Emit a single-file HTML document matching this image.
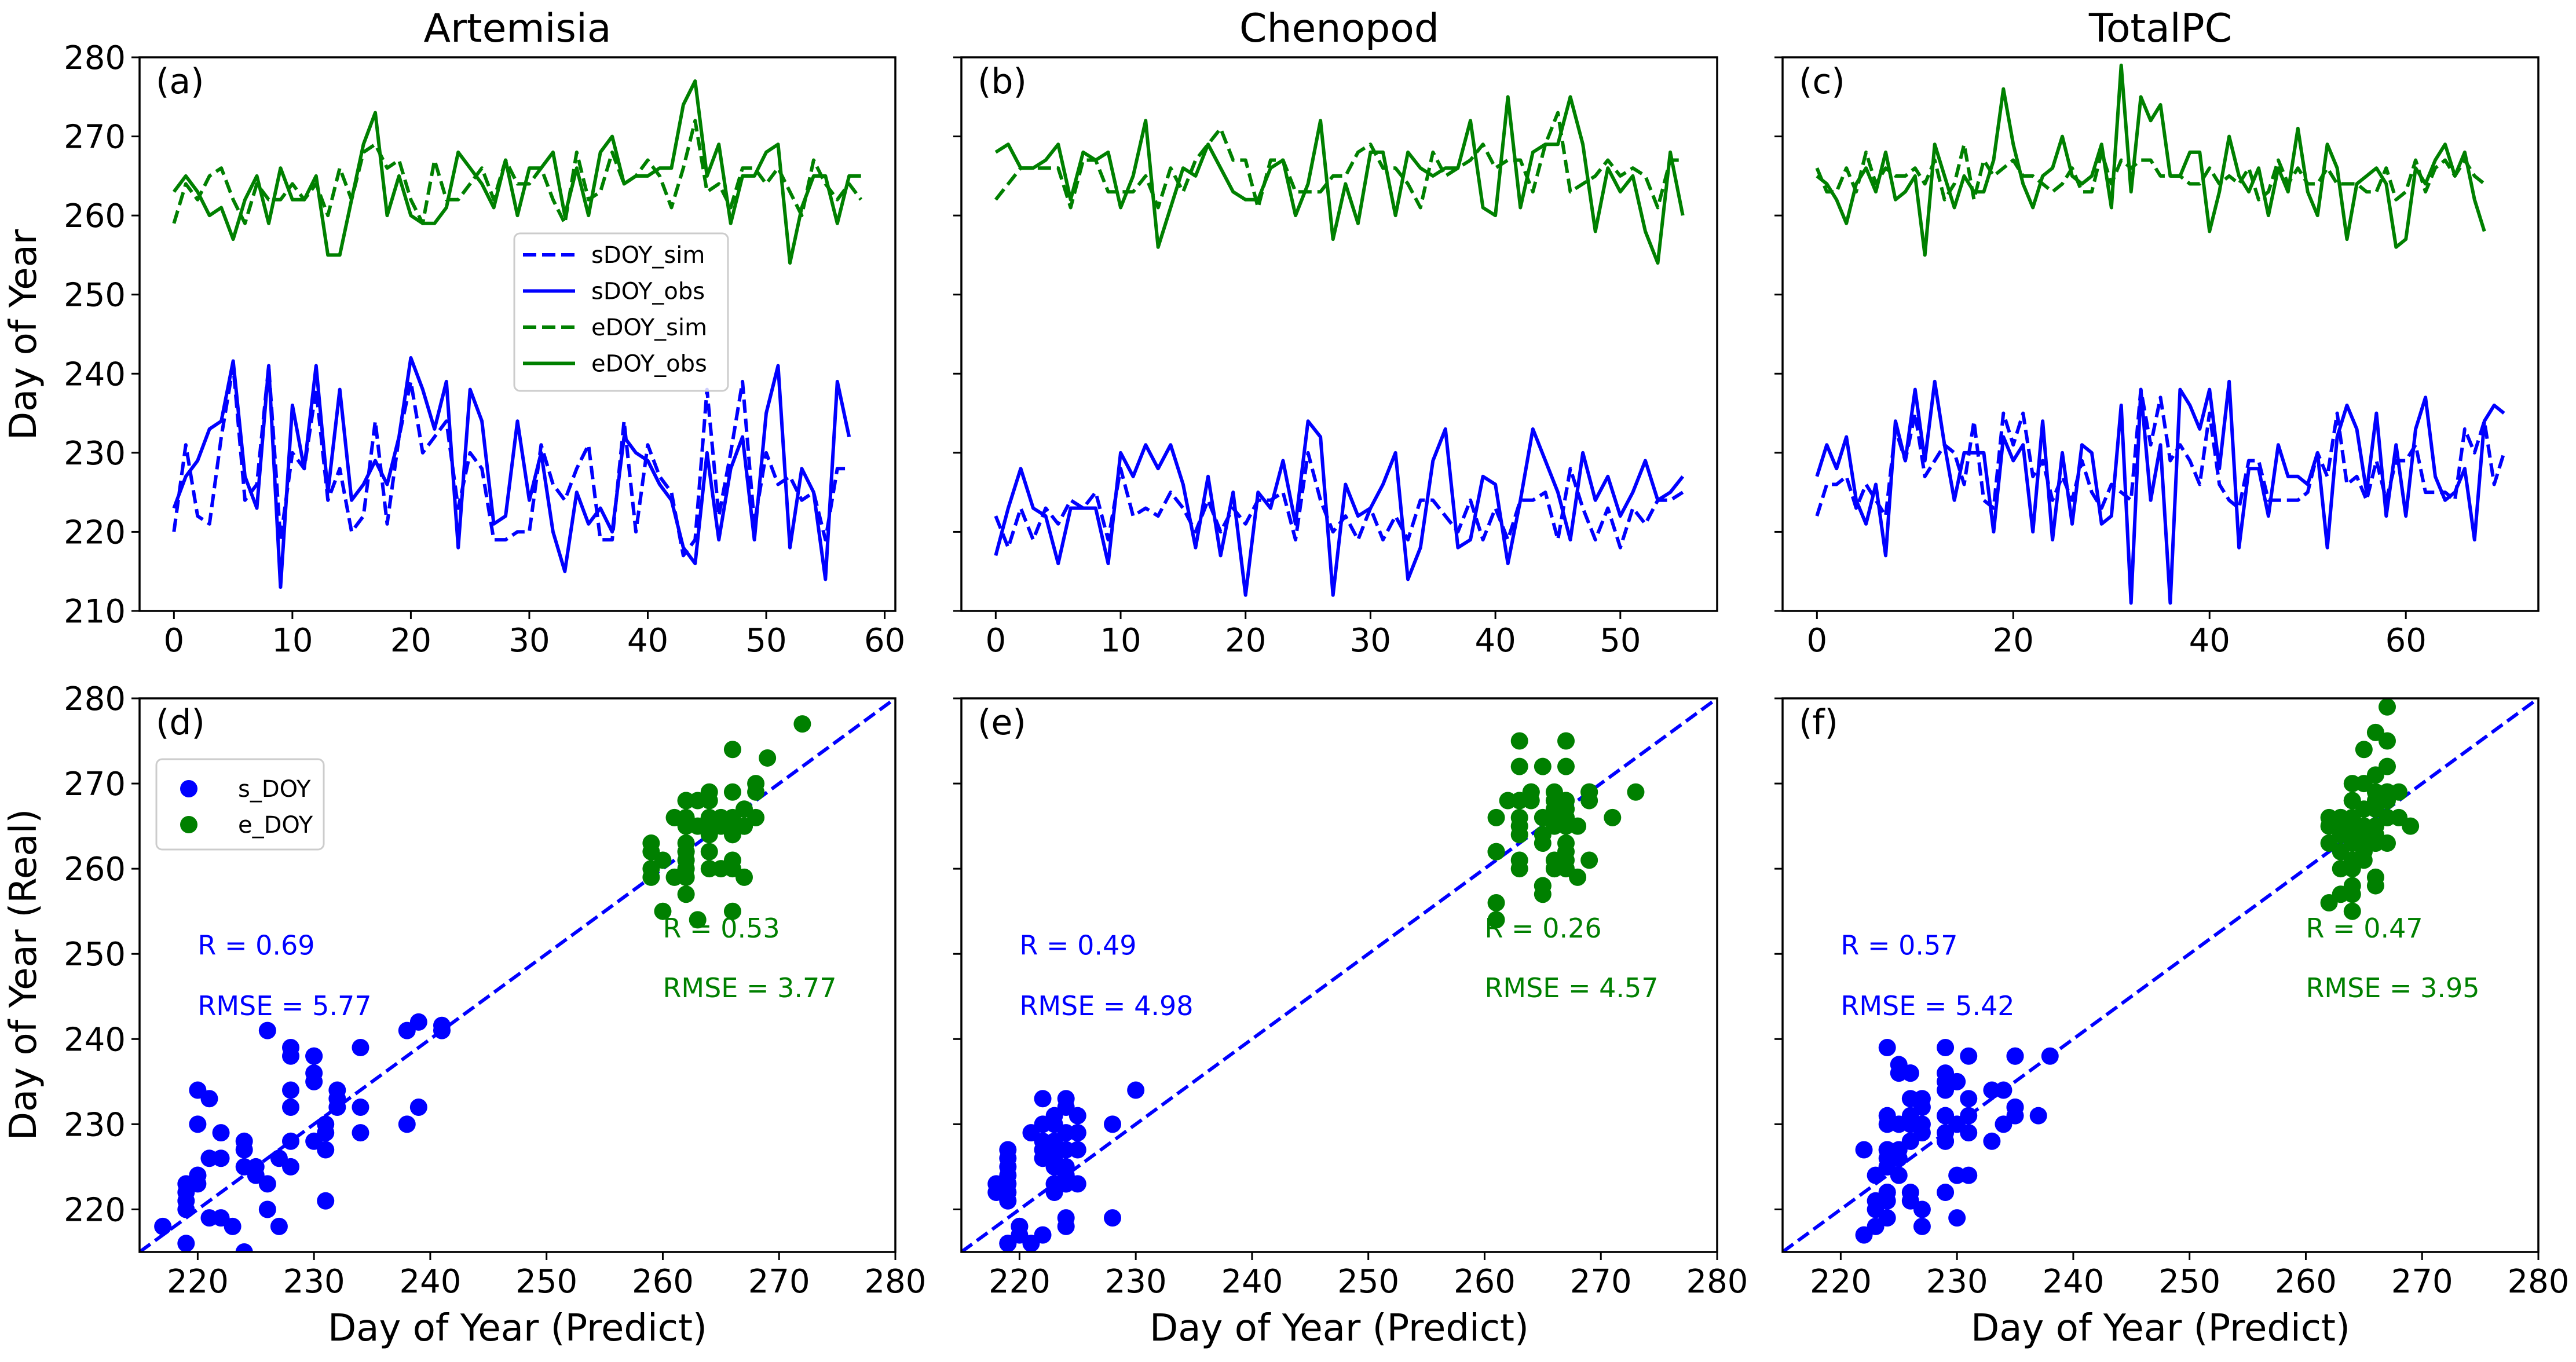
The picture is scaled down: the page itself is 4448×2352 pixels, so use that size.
<!DOCTYPE html>
<html><head><meta charset="utf-8"><style>
html,body{margin:0;padding:0;background:#fff;}
svg{display:block;font-family:"DejaVu Sans","Liberation Sans",sans-serif;}
</style></head>
<body>
<svg id="fig" width="4448" height="2352" viewBox="0 0 4448 2352" xmlns="http://www.w3.org/2000/svg"></svg>
<script>
// ---------- data (a) Artemisia ----------
const aSsim=[220,231,222,221,232,241,224,226,241,219,230,228,238,224,228,220,222,234,221,232,239,230,232,234,223,230,228,219,219,220,220,231,226,224,228,231,219,219,234,220,231,227,225,217,219,238,222,230,239,221,230,226,227,224,225,219,228,228];
const aSobs=[223,227,229,233,234,241.6,227,223,241,213,236,228,241,225,238,224,226,229,226,232,242,238,233,239,218,238,234,221,222,234,224,230,220,215,225,221,223,220,232,230,229,226,224,218,216,230,219,228,232,219,235,241,218,228,225,214,239,232];
const aEsim=[259,264,262,265,266,262,259,264,262,262,264,262,264,260,266,262,268,269,266,267,262,259,267,262,262,264,266,262,267,264,264,266,262,259,268,262,263,268,264,265,267,265,261,266,272,263,264,261,266,266,264,266,263,260,267,264,262,264,262];
const aEobs=[263,265,263,260,261,257,262,265,259,266,262,262,265,255,255,262,269,273,260,265,260,259,259,261,268,266,264,261,267,260,266,266,268,260,266,260,268,270,264,265,265,266,266,274,277,265,269,259,265,265,268,269,254,261,265,265,259,265,265];
// ---------- data (b) Chenopod ----------
const bSsim=[222,218,223,219,223,221,224,223,225,219,228,222,223,222,225,223,220,224,220,223,221,224,224,225,219,230,224,220,222,219,223,219,222,219,224,224,222,220,224,219,223,219,224,224,225,219,228,223,219,223,218,223,221,224,224,225];
const bSobs=[217,223,228,223,222,216,223,223,223,216,230,227,231,228,231,226,218,227,217,225,212,225,223,229,221,234,232,212,226,222,223,226,230,214,218,229,233,218,219,227,226,216,224,233,229,225,219,230,224,227,222,225,229,224,225,227];
const bEsim=[262,264,266,266,266,266,261,267,267,263,263,263,265,261,266,263,267,269,271,267,267,261,267,267,263,263,263,265,265,268,269,266,266,264,261,268,265,266,267,269,266,267,267,263,269,273,263,264,265,267,265,266,265,261,267,267];
const bEobs=[268,269,266,266,267,269,262,268,267,268,261,265,272,256,261,266,265,269,266,263,262,262,266,267,260,264,272,257,264,259,268,268,260,268,266,265,266,266,272,261,260,275,261,268,269,269,275,269,258,266,263,265,258,254,268,260];
// ---------- data (c) TotalPC ----------
const cSsim=[222,226,226,227,223,226,224,222,233,229,235,227,229,231,230,226,234,224,223,235,231,235,227,229,224,227,224,229,225,223,226,225,224,238,231,237,229,231,229,226,235,226,224,223,229,229,224,224,224,224,225,230,227,235,226,227,224,229,224,229,229,231,225,225,225,224,233,230,234,226,230];
const cSobs=[227,231,228,232,224,221,226,217,234,229,238,229,239,231,224,230,230,230,220,232,229,231,220,234,219,230,221,231,230,221,222,236,211,238,224,231,211,238,236,233,238,228,239,218,228,228,222,231,227,227,226,230,218,232,236,233,225,235,222,231,222,233,237,227,224,225,228,219,234,236,235];
const cEsim=[266,263,263,266,263,268,264,266,265,265,266,264,267,262,264,269,262,267,265,266,267,265,265,264,263,264,266,263,263,268,264,267,266,267,267,265,265,265,264,264,266,264,265,264,266,262,263,267,264,266,264,264,266,264,264,264,263,263,266,262,263,267,263,266,267,265,267,265,264];
const cEobs=[265,264,262,259,264,266,263,268,262,263,265,255,269,265,261,265,263,263,267,276,269,264,261,265,266,270,265,264,265,269,261,279,263,275,272,274,265,265,268,268,258,263,270,265,263,266,260,266,263,271,263,260,269,266,257,264,265,266,264,256,257,266,264,267,269,265,268,262,258];
// ---------- labels ----------
const titles=["Artemisia","Chenopod","TotalPC"];
const topTags=["(a)","(b)","(c)"];
const botTags=["(d)","(e)","(f)"];
const topYTicks=[210,220,230,240,250,260,270,280];
const botTicks=[220,230,240,250,260,270,280];
const topXTicksA=[0,10,20,30,40,50,60];
const topXTicksB=[0,10,20,30,40,50];
const topXTicksC=[0,20,40,60];
const sR=["0.69","0.49","0.57"];
const sRMSE=["5.77","4.98","5.42"];
const eR=["0.53","0.26","0.47"];
const eRMSE=["3.77","4.57","3.95"];

const NS="http://www.w3.org/2000/svg";
const svg=document.getElementById('fig');
function mk(tag,attrs,parent){const e=document.createElementNS(NS,tag);for(const k in attrs)e.setAttribute(k,attrs[k]);(parent||svg).appendChild(e);return e;}
function txt(s,attrs,parent){const e=mk('text',attrs,parent);e.textContent=s;return e;}

const panelX=[[241,1546],[1660,2965],[3078,4383]];
const topY=[99,1055], botY=[1206,2162];
const BLUE="#0000ff", GREEN="#008000";
const TICKF=56;

const series=[
 {ss:aSsim,so:aSobs,es:aEsim,eo:aEobs,xt:topXTicksA},
 {ss:bSsim,so:bSobs,es:bEsim,eo:bEobs,xt:topXTicksB},
 {ss:cSsim,so:cSobs,es:cEsim,eo:cEobs,xt:topXTicksC}
];

series.forEach((S,p)=>{
  const [x0,x1]=panelX[p];
  const n=Math.max(S.ss.length,S.so.length,S.es.length,S.eo.length);
  const xmin=-0.05*(n-1), xmax=(n-1)*1.05;
  const sx=v=>x0+(v-xmin)/(xmax-xmin)*(x1-x0);
  const sy=v=>topY[1]-(v-210)/(280-210)*(topY[1]-topY[0]);
  const g=mk('g',{});
  
  
  const clip=mk('clipPath',{id:'ct'+p},g);
  mk('rect',{x:x0,y:topY[0],width:x1-x0,height:topY[1]-topY[0]},clip);
  const t=txt(titles[p],{x:(x0+x1)/2,y:72,'font-size':68,'text-anchor':'middle'},g);
  
  
  const defs=[[S.ss,BLUE,true,'sdoy-sim-line'],[S.so,BLUE,false,'sdoy-obs-line'],[S.es,GREEN,true,'edoy-sim-line'],[S.eo,GREEN,false,'edoy-obs-line']];
  defs.forEach(([arr,col,dash,name])=>{
    const pts=arr.map((v,i)=>sx(i).toFixed(1)+','+sy(v).toFixed(1)).join(' ');
    const pl=mk('polyline',{points:pts,fill:'none',stroke:col,'stroke-width':6,'stroke-linejoin':'round','clip-path':'url(#ct'+p+')'},g);
    if(dash)pl.setAttribute('stroke-dasharray','23 10');
    
    
  });
  const fr=mk('rect',{x:x0,y:topY[0],width:x1-x0,height:topY[1]-topY[0],fill:'none',stroke:'#000','stroke-width':3.5},g);
  
  
  S.xt.forEach(v=>{
    mk('line',{x1:sx(v),x2:sx(v),y1:topY[1],y2:topY[1]+14,stroke:'#000','stroke-width':3},g);
    const l=txt(String(v),{x:sx(v),y:topY[1]+70,'font-size':TICKF,'text-anchor':'middle'},g);
    
    
  });
  topYTicks.forEach(v=>{
    mk('line',{x1:x0-14,x2:x0,y1:sy(v),y2:sy(v),stroke:'#000','stroke-width':3},g);
    if(p===0){
      const l=txt(String(v),{x:x0-24,y:sy(v)+20,'font-size':TICKF,'text-anchor':'end'},g);
      
      
    }
  });
  const tg=txt(topTags[p],{x:x0+28,y:topY[0]+62,'font-size':60},g);
  
  
});

// legend top (a)
{
  const lg=mk('g',{});
  
  
  mk('rect',{x:888,y:403,width:369,height:272,rx:10,fill:'#fff','fill-opacity':0.8,stroke:'#ccc','stroke-width':3},lg);
  const items=[['sDOY_sim',BLUE,true],['sDOY_obs',BLUE,false],['eDOY_sim',GREEN,true],['eDOY_obs',GREEN,false]];
  items.forEach((it,k)=>{
    const y=440+k*62.5;
    const ln=mk('line',{x1:903,x2:993,y1:y,y2:y,stroke:it[1],'stroke-width':6},lg);
    if(it[2])ln.setAttribute('stroke-dasharray','23 10');
    const tx=txt(it[0],{x:1021,y:y+14,'font-size':40},lg);
    
    
  });
}

// y labels
{
  const l1=txt('Day of Year',{x:0,y:0,'font-size':64,'text-anchor':'middle',transform:'translate(62,578) rotate(-90)'});
  
  
  const l2=txt('Day of Year (Real)',{x:0,y:0,'font-size':64,'text-anchor':'middle',transform:'translate(62,1683) rotate(-90)'});
  
  
}

// scatter panels
series.forEach((S,p)=>{
  const [x0,x1]=panelX[p];
  const sx=v=>x0+(v-215)/65*(x1-x0);
  const sy=v=>botY[1]-(v-215)/65*(botY[1]-botY[0]);
  const g=mk('g',{});
  
  
  const clip=mk('clipPath',{id:'cb'+p},g);
  mk('rect',{x:x0,y:botY[0],width:x1-x0,height:botY[1]-botY[0]},clip);
  const d=mk('line',{x1:sx(215),y1:sy(215),x2:sx(280),y2:sy(280),stroke:BLUE,'stroke-width':6,'stroke-dasharray':'23 10','clip-path':'url(#cb'+p+')'},g);
  
  
  const nS=Math.min(S.ss.length,S.so.length);
  for(let i=0;i<nS;i++){
    const c=mk('circle',{cx:sx(S.ss[i]),cy:sy(S.so[i]),r:15,fill:BLUE,'clip-path':'url(#cb'+p+')'},g);
    
    
  }
  const nE=Math.min(S.es.length,S.eo.length);
  for(let i=0;i<nE;i++){
    const c=mk('circle',{cx:sx(S.es[i]),cy:sy(S.eo[i]),r:15,fill:GREEN,'clip-path':'url(#cb'+p+')'},g);
    
    
  }
  const fr=mk('rect',{x:x0,y:botY[0],width:x1-x0,height:botY[1]-botY[0],fill:'none',stroke:'#000','stroke-width':3.5},g);
  
  
  botTicks.forEach(v=>{
    mk('line',{x1:sx(v),x2:sx(v),y1:botY[1],y2:botY[1]+14,stroke:'#000','stroke-width':3},g);
    const l=txt(String(v),{x:sx(v),y:botY[1]+70,'font-size':TICKF,'text-anchor':'middle'},g);
    
    
    mk('line',{x1:x0-14,x2:x0,y1:sy(v),y2:sy(v),stroke:'#000','stroke-width':3},g);
    if(p===0){
      const m=txt(String(v),{x:x0-24,y:sy(v)+20,'font-size':TICKF,'text-anchor':'end'},g);
      
      
    }
  });
  const xl=txt('Day of Year (Predict)',{x:(x0+x1)/2,y:2315,'font-size':64,'text-anchor':'middle'},g);
  
  
  const tg=txt(botTags[p],{x:x0+28,y:botY[0]+62,'font-size':60},g);
  
  
  const r1=txt('R = '+sR[p],{x:sx(220),y:sy(251)+16,'font-size':46,fill:BLUE},g);
  
  
  const r2=txt('RMSE = '+sRMSE[p],{x:sx(220),y:sy(243.9)+16,'font-size':46,fill:BLUE},g);
  
  
  const r3=txt('R = '+eR[p],{x:sx(260),y:sy(253)+16,'font-size':46,fill:GREEN},g);
  
  
  const r4=txt('RMSE = '+eRMSE[p],{x:sx(260),y:sy(246)+16,'font-size':46,fill:GREEN},g);
  
  
});

// scatter legend (d)
{
  const lg=mk('g',{});
  
  
  mk('rect',{x:270,y:1311,width:289,height:156,rx:10,fill:'#fff','fill-opacity':0.8,stroke:'#ccc','stroke-width':3},lg);
  [['s_DOY',BLUE],['e_DOY',GREEN]].forEach((it,k)=>{
    const y=1362+k*62;
    mk('circle',{cx:326,cy:y,r:15,fill:it[1]},lg);
    const tx=txt(it[0],{x:411,y:y+14,'font-size':40},lg);
    
    
  });
}
</script>
</body></html>
